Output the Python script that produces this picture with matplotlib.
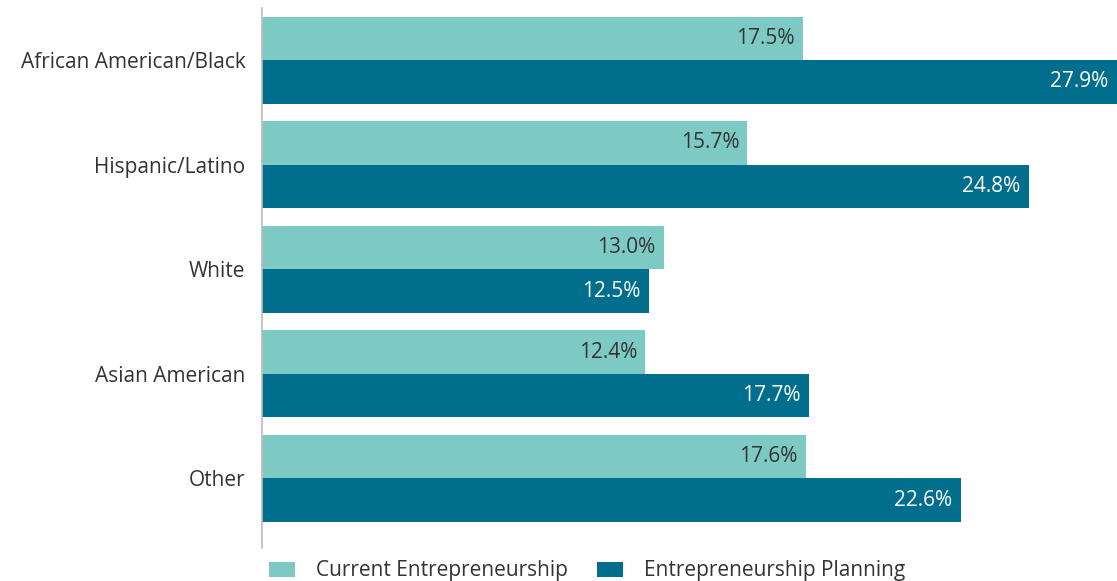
import matplotlib.pyplot as plt
import numpy as np

groups = ["African American/Black", "Hispanic/Latino", "White", "Asian American", "Other"]
current = [17.5, 15.7, 13.0, 12.4, 17.6]
planning = [27.9, 24.8, 12.5, 17.7, 22.6]

light = "#7ccac3"
dark = "#006e8c"
text_color = "#333333"
xmax = 27.65

plt.rcParams["font.family"] = ["Open Sans", "DejaVu Sans"]

fig = plt.figure(figsize=(11.17, 5.81), dpi=100)
ax = fig.add_axes([262 / 1117, 1 - 548 / 581, 1 - 262 / 1117, 540 / 581])

y = np.arange(len(groups))
h = 0.416
b1 = ax.barh(y - h / 2, current, height=h, color=light, label="Current Entrepreneurship")
b2 = ax.barh(y + h / 2, planning, height=h, color=dark, label="Entrepreneurship Planning")

# value labels inside the bar ends (bar clipped at the right edge)
for bars, vals, col in [(b1, current, text_color), (b2, planning, "white")]:
    for bar, v in zip(bars, vals):
        ax.annotate(f"{v:.1f}%", (min(v, xmax), bar.get_y() + bar.get_height() / 2),
                    xytext=(-6, 0), textcoords="offset points",
                    ha="right", va="center", fontsize=15, color=col)

ax.set_xlim(0, xmax)
ax.set_ylim(4.665, -0.498)
ax.set_yticks(y)
ax.set_yticklabels(groups, fontsize=15, color=text_color)
ax.tick_params(axis="y", length=0, pad=12)
ax.set_xticks([])
for s in ["top", "right", "bottom"]:
    ax.spines[s].set_visible(False)
ax.spines["left"].set_color("#bbbbbb")
ax.spines["left"].set_linewidth(1.2)

fig.legend(handles=[b1, b2], loc="lower left", bbox_to_anchor=(250 / 1117, -0.033),
           ncol=2, frameon=False, fontsize=15, handlelength=1.25, handleheight=0.72,
           columnspacing=1.4, handletextpad=1.0, labelcolor=text_color)

fig.savefig("out.png", dpi=100)
